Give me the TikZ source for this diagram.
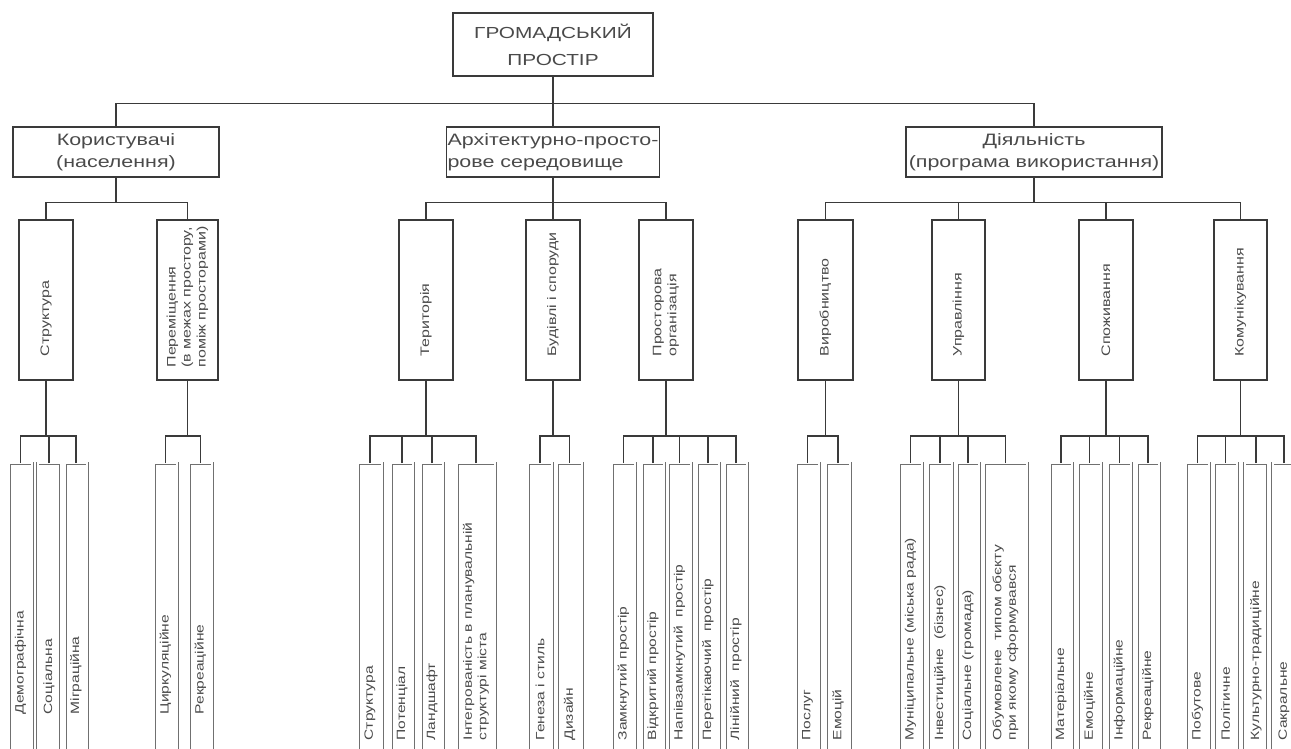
\documentclass[tikz,border=0pt]{standalone}
\usepackage{fontspec}
\setmainfont{Liberation Sans}[FakeStretch=1.3]
\usepackage{tikz}
\definecolor{linegray}{HTML}{3A3A3A}
\definecolor{leafgray}{HTML}{707070}
\definecolor{textgray}{HTML}{4A4A4A}

\begin{document}
\begin{tikzpicture}[x=1pt,y=-1pt]
\tikzstyle{topbox}=[rectangle,draw=linegray,line width=1.2pt,minimum width=200pt,minimum height=63pt,align=center,text=textgray,font=\fontsize{16}{27}\selectfont]
\tikzstyle{catbox}=[rectangle,draw=linegray,line width=1.2pt,minimum height=50pt,inner xsep=1pt,align=center,text=textgray,font=\fontsize{16.5}{22}\selectfont]
\tikzstyle{subbox}=[rectangle,draw=linegray,line width=1.2pt,minimum width=54pt,minimum height=160pt,inner sep=0pt]
\tikzstyle{leafbox}=[rectangle,draw=leafgray,line width=0.5pt,double=white,double distance=2pt,minimum width=23pt,minimum height=300pt,inner sep=0pt,anchor=north]
% rotated labels: the xshift runs upwards along the box
\tikzstyle{sublab}=[rotate=90,anchor=west,inner sep=0pt,xshift=24pt,align=left,text=textgray,font=\fontsize{12.3}{15}\selectfont]
\tikzstyle{leaflab}=[rotate=90,anchor=west,inner sep=0pt,xshift=23pt,align=left,text=textgray,font=\fontsize{12}{14.5}\selectfont]
\tikzstyle{up1}=[draw=linegray,line width=1.1pt,to path={(\tikztostart.north) -- ++(0,-23) -| (\tikztotarget.south)}]
\tikzstyle{up2}=[draw=linegray,line width=1.1pt,to path={(\tikztostart.north) -- ++(0,-17) -| (\tikztotarget.south)}]
\tikzstyle{up3}=[draw=linegray,line width=1.1pt,to path={(\tikztostart.north) -- ++(0,-27) -| (\tikztotarget.south)}]
\useasboundingbox (0,0) rectangle (1291,748);
% top and first level
\node [topbox] (top) at (553,44.5) {ГРОМАДСЬКИЙ\\ПРОСТІР};
\node [catbox,minimum width=206pt] (users) at (116,152) {Користувачі\\(населення)}
edge [up1] (top);
\node [catbox,minimum width=213pt,align=left] (arch) at (553,152) {Архітектурно-просто-\\рове середовище}
edge [up1] (top);
\node [catbox,minimum width=256pt] (activ) at (1034,152) {Діяльність\\(програма використання)}
edge [up1] (top);
% second level
\node [subbox,label={[sublab]south:Структура}] (ustruct) at (46,300) {}
edge [up2] (users);
\node [subbox,minimum width=61pt,label={[sublab,xshift=-11pt]south:{Переміщення\\(в межах простору,\\поміж просторами)}}] (umove) at (187.5,300) {}
edge [up2] (users);
\node [subbox,label={[sublab]south:Територія}] (aterr) at (426,300) {}
edge [up2] (arch);
\node [subbox,label={[sublab]south:Будівлі і споруди}] (abuild) at (553,300) {}
edge [up2] (arch);
\node [subbox,label={[sublab]south:{Просторова\\організація}}] (aspace) at (666,300) {}
edge [up2] (arch);
\node [subbox,minimum width=55pt,label={[sublab]south:Виробництво}] (dprod) at (825.5,300) {}
edge [up2] (activ);
\node [subbox,minimum width=53pt,label={[sublab]south:Управління}] (dman) at (958.5,300) {}
edge [up2] (activ);
\node [subbox,label={[sublab]south:Споживання}] (dcons) at (1106,300) {}
edge [up2] (activ);
\node [subbox,minimum width=53pt,label={[sublab]south:Комунікування}] (dcomm) at (1240.5,300) {}
edge [up2] (activ);
% leaves: users
\node [leafbox,label={[leaflab,xshift=26pt]south:Демографічна}] (udem) at (20.5,463) {}
edge [up3] (ustruct);
\node [leafbox,label={[leaflab,xshift=26pt]south:Соціальна}] (usoc) at (49,463) {}
edge [up3] (ustruct);
\node [leafbox,minimum width=22pt,label={[leaflab,xshift=26pt]south:Міграційна}] (umigr) at (76,463) {}
edge [up3] (ustruct);
\node [leafbox,label={[leaflab,xshift=26pt]south:Циркуляційне}] (ucirc) at (165.5,463) {}
edge [up3] (umove);
\node [leafbox,label={[leaflab,xshift=26pt]south:Рекреаційне}] (urecr) at (200.5,463) {}
edge [up3] (umove);
% leaves: architecture
\node [leafbox,minimum width=24pt,label={[leaflab]south:Структура}] (astr) at (370,463) {}
edge [up3] (aterr);
\node [leafbox,minimum width=22pt,label={[leaflab]south:Потенціал}] (apot) at (402,463) {}
edge [up3] (aterr);
\node [leafbox,minimum width=22pt,label={[leaflab]south:Ландшафт}] (aland) at (432,463) {}
edge [up3] (aterr);
\node [leafbox,minimum width=38pt,label={[leaflab]south:{Інтегрованість в планувальній\\структурі міста}}] (aint) at (476,463) {}
edge [up3] (aterr);
\node [leafbox,minimum width=24pt,label={[leaflab]south:Генеза і стиль}] (agen) at (540,463) {}
edge [up3] (abuild);
\node [leafbox,minimum width=25pt,label={[leaflab]south:Дизайн}] (adiz) at (569.5,463) {}
edge [up3] (abuild);
\node [leafbox,label={[leaflab]south:Замкнутий простір}] (aclosed) at (623.5,463) {}
edge [up3] (aspace);
\node [leafbox,minimum width=22pt,label={[leaflab]south:Відкритий простір}] (aopen) at (653,463) {}
edge [up3] (aspace);
\node [leafbox,label={[leaflab]south:Напівзамкнутий~ простір}] (ahalf) at (679.5,463) {}
edge [up3] (aspace);
\node [leafbox,minimum width=22pt,label={[leaflab]south:Перетікаючий~ простір}] (aflow) at (708,463) {}
edge [up3] (aspace);
\node [leafbox,minimum width=22pt,label={[leaflab]south:Лінійний~ простір}] (aline) at (736,463) {}
edge [up3] (aspace);
% leaves: activity
\node [leafbox,label={[leaflab]south:Послуг}] (dserv) at (807.5,463) {}
edge [up3] (dprod);
\node [leafbox,minimum width=24pt,label={[leaflab]south:Емоцій}] (demot) at (838,463) {}
edge [up3] (dprod);
\node [leafbox,label={[leaflab]south:Муніципальне (міська рада)}] (dmun) at (910.5,463) {}
edge [up3] (dman);
\node [leafbox,minimum width=24pt,label={[leaflab]south:Інвестиційне~ (бізнес)}] (dinv) at (940,463) {}
edge [up3] (dman);
\node [leafbox,minimum width=22pt,label={[leaflab]south:Соціальне (громада)}] (dsoc) at (968,463) {}
edge [up3] (dman);
\node [leafbox,minimum width=43pt,label={[leaflab]south:{Обумовлене~ типом обєкту\\при якому сформувався}}] (dtype) at (1005.5,463) {}
edge [up3] (dman);
\node [leafbox,minimum width=22pt,label={[leaflab]south:Матеріальне}] (dmat) at (1061,463) {}
edge [up3] (dcons);
\node [leafbox,label={[leaflab]south:Емоційне}] (demo) at (1089.5,463) {}
edge [up3] (dcons);
\node [leafbox,label={[leaflab]south:Інформаційне}] (dinf) at (1119.5,463) {}
edge [up3] (dcons);
\node [leafbox,minimum width=22pt,label={[leaflab]south:Рекреаційне}] (drec) at (1148,463) {}
edge [up3] (dcons);
\node [leafbox,label={[leaflab]south:Побутове}] (dhome) at (1197.5,463) {}
edge [up3] (dcomm);
\node [leafbox,label={[leaflab]south:Політичне}] (dpol) at (1225.5,463) {}
edge [up3] (dcomm);
\node [leafbox,label={[leaflab]south:Культурно-традиційне}] (dcult) at (1256,463) {}
edge [up3] (dcomm);
\node [leafbox,label={[leaflab]south:Сакральне}] (dsacr) at (1284,463) {}
edge [up3] (dcomm);
\end{tikzpicture}
\end{document}
